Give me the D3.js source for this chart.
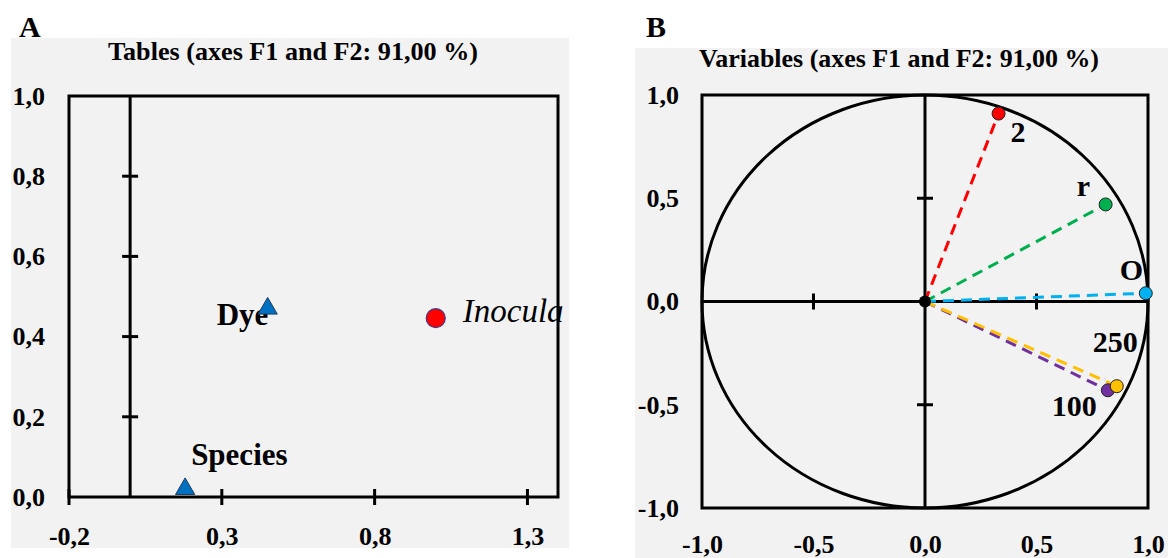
<!DOCTYPE html>
<html><head><meta charset="utf-8">
<script src="https://cdn.jsdelivr.net/npm/d3@7"></script>
<style>
html,body{margin:0;padding:0;background:#fff;}
svg text{font-family:"Liberation Serif","Times New Roman",serif;font-weight:bold;fill:#000;}
</style></head>
<body><svg id="c" width="1168" height="558"></svg>
<script>
// ---------- data ----------
const titleA = "Tables (axes F1 and F2: 91,00 %)";
const titleB = "Variables (axes F1 and F2: 91,00 %)";
const tablesLabels = ["Species", "Dye", "Inocula"];
const tablesF1 = [0.18, 0.45, 1.0];
const tablesF2 = [0.02, 0.47, 0.446];
const tablesShape = ["triangle", "triangle", "circle"];
const xTicksA = [-0.2, 0.3, 0.8, 1.3];
const yTicksA = [0, 0.2, 0.4, 0.6, 0.8, 1.0];

const varLabels = ["2", "r", "O", "100", "250"];
const varF1 = [0.33, 0.81, 0.99, 0.82, 0.86];
const varF2 = [0.91, 0.47, 0.04, -0.43, -0.41];
const varColors = ["#ff0000", "#00b050", "#00b0f0", "#7030a0", "#ffc000"];
const ticksB = [-1.0, -0.5, 0.0, 0.5, 1.0];

// ---------- helpers ----------
const svg = d3.select("#c");
const fmt = v => d3.format(".1f")(v).replace(".", ",").replace("−", "-");
const TICKFONT = 26;

// ================= Panel A =================
const gA = svg.append("g");
gA.append("rect").attr("x", 11).attr("y", 38).attr("width", 558).attr("height", 510).attr("fill", "#f2f2f2");
svg.append("text").attr("x", 19).attr("y", 37).attr("font-size", 30).text("A");
gA.append("text").attr("x", 293).attr("y", 60).attr("text-anchor", "middle")
  .attr("font-size", 26).attr("textLength", 370).attr("lengthAdjust", "spacingAndGlyphs").text(titleA);

const xA = d3.scaleLinear().domain([-0.2, 1.4]).range([69, 558]);
const yA = d3.scaleLinear().domain([0, 1]).range([497, 96]);

gA.append("rect").attr("x", xA(-0.2)).attr("y", yA(1)).attr("width", xA(1.4) - xA(-0.2)).attr("height", yA(0) - yA(1))
  .attr("fill", "none").attr("stroke", "#000").attr("stroke-width", 3);
gA.append("line").attr("x1", xA(0)).attr("x2", xA(0)).attr("y1", yA(0)).attr("y2", yA(1)).attr("stroke", "#000").attr("stroke-width", 3);
gA.selectAll(".ty").data(yTicksA.filter(v => v > 0 && v < 1)).join("line")
  .attr("x1", xA(0) - 8).attr("x2", xA(0) + 8).attr("y1", d => yA(d)).attr("y2", d => yA(d))
  .attr("stroke", "#000").attr("stroke-width", 3);
gA.selectAll(".tx").data(xTicksA).join("line")
  .attr("x1", d => xA(d)).attr("x2", d => xA(d)).attr("y1", yA(0) - 8).attr("y2", yA(0) + 8)
  .attr("stroke", "#000").attr("stroke-width", 3);

const axAy = gA.append("g").attr("transform", "translate(47,0)")
  .call(d3.axisLeft(yA).tickValues(yTicksA).tickFormat(fmt).tickSize(0).tickPadding(2));
const axAx = gA.append("g").attr("transform", "translate(0,527)")
  .call(d3.axisBottom(xA).tickValues(xTicksA).tickFormat(fmt).tickSize(0).tickPadding(0));
[axAy, axAx].forEach(a => { a.select(".domain").remove(); a.selectAll("text").attr("font-size", TICKFONT).attr("font-family", null).style("font-family", '"Liberation Serif", serif').style("font-weight", "bold").attr("fill", "#000"); });

const labOffA = [[6, -24], [-51, 16], [27, 4]];
gA.selectAll(".lab").data(tablesLabels).join("text")
  .attr("x", (d, i) => xA(tablesF1[i]) + labOffA[i][0])
  .attr("y", (d, i) => yA(tablesF2[i]) + labOffA[i][1])
  .attr("font-size", d => d === "Inocula" ? 33 : 31)
  .style("font-style", d => d === "Inocula" ? "italic" : "normal")
  .style("font-weight", d => d === "Inocula" ? "normal" : "bold")
  .text(d => d);
const tri = d3.symbol().type(d3.symbolTriangle).size(160);
tablesLabels.forEach((d, i) => {
  const px = xA(tablesF1[i]), py = yA(tablesF2[i]);
  if (tablesShape[i] === "triangle") {
    gA.append("path").attr("d", tri()).attr("transform", `translate(${px},${py})`)
      .attr("fill", "#0070c0").attr("stroke", "#1f3a60").attr("stroke-width", 1);
  } else {
    gA.append("circle").attr("cx", px).attr("cy", py).attr("r", 9.5)
      .attr("fill", "#ff0000").attr("stroke", "#3a3a8a").attr("stroke-width", 1.2);
  }
});

// ================= Panel B =================
const gB = svg.append("g");
gB.append("rect").attr("x", 635).attr("y", 48).attr("width", 533).attr("height", 510).attr("fill", "#f2f2f2");
svg.append("text").attr("x", 646).attr("y", 37).attr("font-size", 30).text("B");
gB.append("text").attr("x", 899).attr("y", 67).attr("text-anchor", "middle")
  .attr("font-size", 26).attr("textLength", 400).attr("lengthAdjust", "spacingAndGlyphs").text(titleB);

const xB = d3.scaleLinear().domain([-1, 1]).range([702, 1148]);
const yB = d3.scaleLinear().domain([-1, 1]).range([508, 95]);

gB.append("rect").attr("x", xB(-1)).attr("y", yB(1)).attr("width", xB(1) - xB(-1)).attr("height", yB(-1) - yB(1))
  .attr("fill", "none").attr("stroke", "#000").attr("stroke-width", 3);
gB.append("ellipse").attr("cx", xB(0)).attr("cy", yB(0)).attr("rx", xB(1) - xB(0)).attr("ry", yB(0) - yB(1))
  .attr("fill", "none").attr("stroke", "#000").attr("stroke-width", 3);
gB.append("line").attr("x1", xB(0)).attr("x2", xB(0)).attr("y1", yB(-1)).attr("y2", yB(1)).attr("stroke", "#000").attr("stroke-width", 3);
gB.append("line").attr("x1", xB(-1)).attr("x2", xB(1)).attr("y1", yB(0)).attr("y2", yB(0)).attr("stroke", "#000").attr("stroke-width", 3);
gB.selectAll(".ty").data([-0.5, 0.5]).join("line")
  .attr("x1", xB(0) - 8).attr("x2", xB(0) + 8).attr("y1", d => yB(d)).attr("y2", d => yB(d))
  .attr("stroke", "#000").attr("stroke-width", 3);
gB.selectAll(".tx").data([-0.5, 0.5]).join("line")
  .attr("x1", d => xB(d)).attr("x2", d => xB(d)).attr("y1", yB(0) - 8).attr("y2", yB(0) + 8)
  .attr("stroke", "#000").attr("stroke-width", 3);

const axBy = gB.append("g").attr("transform", "translate(681,0)")
  .call(d3.axisLeft(yB).tickValues(ticksB).tickFormat(fmt).tickSize(0).tickPadding(2));
const axBx = gB.append("g").attr("transform", "translate(0,535)")
  .call(d3.axisBottom(xB).tickValues(ticksB).tickFormat(fmt).tickSize(0).tickPadding(0));
[axBy, axBx].forEach(a => { a.select(".domain").remove(); a.selectAll("text").attr("font-size", TICKFONT).attr("font-family", null).style("font-family", '"Liberation Serif", serif').style("font-weight", "bold").attr("fill", "#000"); });

varLabels.forEach((d, i) => {
  gB.append("line").attr("x1", xB(0)).attr("y1", yB(0)).attr("x2", xB(varF1[i])).attr("y2", yB(varF2[i]))
    .attr("stroke", varColors[i]).attr("stroke-width", 3).attr("stroke-dasharray", "11,7");
});
gB.append("circle").attr("cx", xB(0)).attr("cy", yB(0)).attr("r", 6).attr("fill", "#000");
varLabels.forEach((d, i) => {
  gB.append("circle").attr("cx", xB(varF1[i])).attr("cy", yB(varF2[i])).attr("r", 6.5)
    .attr("fill", varColors[i]).attr("stroke", "#222").attr("stroke-width", 1);
});
const labOffB = [[12, 28], [-29, -8], [-26, -13], [-56, 26], [-24, -34]];
gB.selectAll(".lab").data(varLabels).join("text")
  .attr("x", (d, i) => xB(varF1[i]) + labOffB[i][0])
  .attr("y", (d, i) => yB(varF2[i]) + labOffB[i][1])
  .attr("font-size", 30).text(d => d);
</script></body></html>
